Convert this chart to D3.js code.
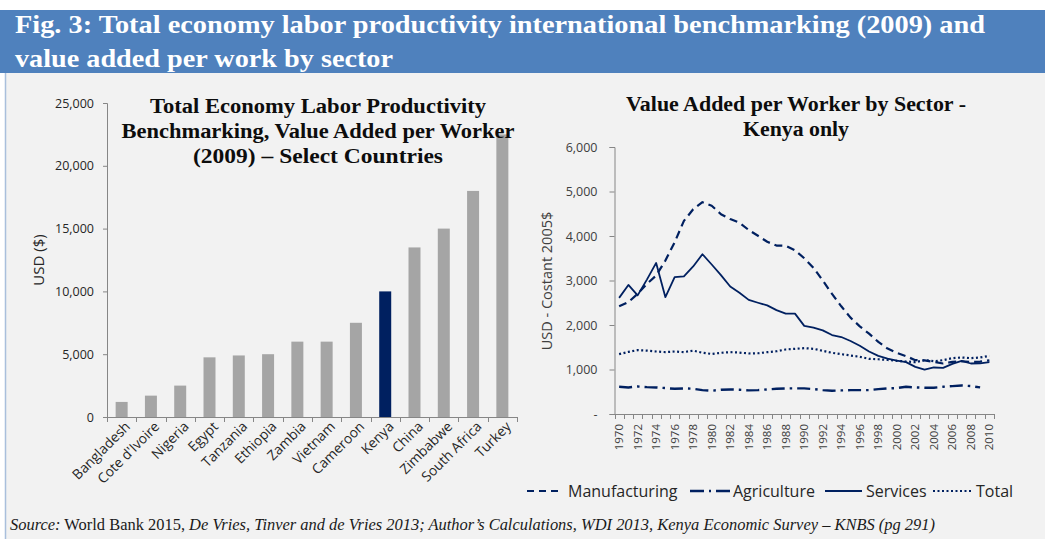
<!DOCTYPE html>
<html><head><meta charset="utf-8">
<script src="https://cdn.jsdelivr.net/npm/d3@7"></script>
<style>
html,body{margin:0;padding:0;background:#fff;}
svg{display:block;}
</style></head>
<body>
<svg id="c" width="1045" height="539"></svg>
<script>
// ---------- DATA ----------
const countries = ["Bangladesh","Cote d'Ivoire","Nigeria","Egypt","Tanzania","Ethiopia","Zambia","Vietnam","Cameroon","Kenya","China","Zimbabwe","South Africa","Turkey"];
const productivity = [1200,1700,2500,4750,4900,5000,6000,6000,7500,10000,13500,15000,18000,22500];
const leftTicks = [0,5000,10000,15000,20000,25000];

const years = [1970,1971,1972,1973,1974,1975,1976,1977,1978,1979,1980,1981,1982,1983,1984,1985,1986,1987,1988,1989,1990,1991,1992,1993,1994,1995,1996,1997,1998,1999,2000,2001,2002,2003,2004,2005,2006,2007,2008,2009,2010];
const manufacturing = [2420,2515,2700,2925,3110,3450,3860,4340,4600,4760,4680,4490,4380,4300,4135,4005,3870,3785,3780,3680,3500,3285,3000,2700,2420,2165,1970,1805,1620,1470,1375,1300,1210,1205,1170,1135,1170,1185,1170,1175,1205];
const agriculture = [612,597,619,604,597,582,567,575,567,537,522,545,552,545,530,537,552,567,575,575,575,560,537,522,530,537,537,537,560,575,582,612,597,590,590,612,627,642,627,597,null];
const services = [2610,2900,2665,3020,3395,2625,3075,3095,3315,3590,3360,3120,2865,2725,2565,2500,2440,2335,2255,2255,1980,1940,1880,1775,1730,1640,1535,1405,1305,1245,1200,1165,1060,995,1045,1035,1125,1195,1135,1140,1165];
const total = [1345,1395,1435,1425,1405,1390,1405,1390,1425,1375,1350,1375,1390,1380,1360,1365,1390,1410,1450,1465,1480,1465,1420,1375,1345,1315,1285,1240,1230,1215,1195,1180,1165,1210,1185,1210,1255,1270,1255,1270,1305];
const rightTicks = [0,1000,2000,3000,4000,5000,6000];
const rightTickLabels = ["-","1,000","2,000","3,000","4,000","5,000","6,000"];

const seriesNames = ["Manufacturing","Agriculture","Services","Total"];
const seriesData = [manufacturing, agriculture, services, total];

// ---------- STYLE ----------
const navy = "#002060";
const barGray = "#a5a5a5";
const axisCol = "#868686";
const sans = "'Open Sans', 'Noto Sans', sans-serif";
const serif = "'Liberation Serif', 'DejaVu Serif', serif";
const dashes = ["8,5", "13,5,2.5,5", null, "2,2.5"];
const widths = [2.2, 2.4, 1.8, 2.2];

const svg = d3.select("#c");

// background
svg.append("rect").attr("x",0).attr("y",0).attr("width",1045).attr("height",539).attr("fill","#ffffff");
svg.append("rect").attr("x",5).attr("y",73).attr("width",1040).attr("height",466).attr("fill","#f2f2f2");
svg.append("line").attr("x1",5.5).attr("x2",5.5).attr("y1",73).attr("y2",539).attr("stroke","#a9bfdc").attr("stroke-width",1.5);
svg.append("rect").attr("x",0).attr("y",10).attr("width",1045).attr("height",63).attr("fill","#4f81bd");

// header
svg.append("text").attr("x",15).attr("y",33).attr("fill","#fff")
  .attr("font-family",serif).attr("font-size",26).attr("font-weight","bold")
  .attr("textLength",970).attr("lengthAdjust","spacingAndGlyphs")
  .text("Fig. 3: Total economy labor productivity international benchmarking (2009) and");
svg.append("text").attr("x",15).attr("y",67).attr("fill","#fff")
  .attr("font-family",serif).attr("font-size",26).attr("font-weight","bold")
  .attr("textLength",378).attr("lengthAdjust","spacingAndGlyphs")
  .text("value added per work by sector");

// ---------- LEFT BAR CHART ----------
const L = {x0:107, x1:517, y0:417, y1:103};
const xb = d3.scaleBand().domain(countries).range([L.x0, L.x1]).paddingInner(0).paddingOuter(0);
const yb = d3.scaleLinear().domain([0,25000]).range([L.y0, L.y1]);

const gL = svg.append("g");
gL.selectAll("rect.bar").data(countries).enter().append("rect")
  .attr("x", d => xb(d) + xb.bandwidth()/2 - 6)
  .attr("width", 12)
  .attr("y", (d,i) => yb(productivity[i]))
  .attr("height", (d,i) => L.y0 - yb(productivity[i]))
  .attr("fill", d => d === "Kenya" ? navy : barGray);

const yAxL = d3.axisLeft(yb).tickValues(leftTicks).tickSize(4).tickPadding(9).tickFormat(d3.format(","));
const gyL = gL.append("g").attr("transform",`translate(${L.x0},0)`).call(yAxL);
gyL.select(".domain").attr("stroke",axisCol);
gyL.selectAll(".tick line").attr("stroke",axisCol);
gyL.selectAll("text").attr("font-family",sans).attr("font-size",12.5).attr("fill","#262626");

// x axis line + ticks at band boundaries
const gxL = gL.append("g").attr("transform",`translate(0,${L.y0})`);
gxL.append("line").attr("x1",L.x0).attr("x2",L.x1).attr("y1",0.5).attr("y2",0.5).attr("stroke",axisCol);
const bounds = countries.map(d => xb(d)).concat([L.x1]);
gxL.selectAll("line.t").data(bounds).enter().append("line")
  .attr("x1",d=>Math.round(d)+0.5).attr("x2",d=>Math.round(d)+0.5).attr("y1",0).attr("y2",5).attr("stroke",axisCol);
gxL.selectAll("text").data(countries).enter().append("text")
  .attr("transform", d => `translate(${xb(d)+xb.bandwidth()/2+6},7) rotate(-45)`)
  .attr("text-anchor","end").attr("dy","0.35em")
  .attr("font-family",sans).attr("font-size",13.8).attr("fill","#262626")
  .text(d=>d);

svg.append("text").attr("transform","translate(44,260) rotate(-90)")
  .attr("text-anchor","middle").attr("font-family",sans).attr("font-size",15).attr("fill","#262626")
  .text("USD ($)");

const lt = [["Total Economy Labor Productivity",112.5,336],["Benchmarking, Value Added per Worker",138,393],["(2009) – Select Countries",163,250]];
lt.forEach(([t,y,w]) => {
  svg.append("text").attr("x",318).attr("y",y).attr("text-anchor","middle")
    .attr("font-family",serif).attr("font-weight","bold").attr("font-size",20).attr("fill","#0d0d0d")
    .attr("textLength",w).attr("lengthAdjust","spacingAndGlyphs").text(t);
});

// ---------- RIGHT LINE CHART ----------
const R = {x0:614.5, x1:994, y0:414, y1:147};
const xr = d3.scaleBand().domain(years).range([R.x0, R.x1]);
const yr = d3.scaleLinear().domain([0,6000]).range([R.y0, R.y1]);
const gR = svg.append("g");

const yAxR = d3.axisLeft(yr).tickValues(rightTicks).tickSize(5).tickPadding(12).tickFormat((d,i)=>rightTickLabels[i]);
const gyR = gR.append("g").attr("transform",`translate(${R.x0},0)`).call(yAxR);
gyR.select(".domain").attr("stroke",axisCol);
gyR.selectAll(".tick line").attr("stroke",axisCol);
gyR.selectAll("text").attr("font-family",sans).attr("font-size",12.5).attr("fill","#404040");

const gxR = gR.append("g").attr("transform",`translate(0,${R.y0})`);
gxR.append("line").attr("x1",R.x0).attr("x2",R.x1).attr("y1",0.5).attr("y2",0.5).attr("stroke",axisCol);
const rb = years.map(d => xr(d)).concat([R.x1]);
gxR.selectAll("line.t").data(rb).enter().append("line")
  .attr("x1",d=>Math.round(d)+0.5).attr("x2",d=>Math.round(d)+0.5).attr("y1",0).attr("y2",5).attr("stroke",axisCol);
gxR.selectAll("text").data(years.filter((d,i)=>i%2===0)).enter().append("text")
  .attr("transform", d => `translate(${xr(d)+xr.bandwidth()/2},10) rotate(-90)`)
  .attr("text-anchor","end").attr("dy","0.35em")
  .attr("font-family",sans).attr("font-size",11.5).attr("fill","#404040")
  .text(d=>d);

const line = d3.line().defined(d => d.v !== null).x(d => xr(d.y)+xr.bandwidth()/2).y(d => yr(d.v)).curve(d3.curveLinear);
seriesData.forEach((arr,k) => {
  const pts = years.map((y,i)=>({y:y, v:arr[i]}));
  gR.append("path").attr("d", line(pts)).attr("fill","none").attr("stroke",navy)
    .attr("stroke-width",widths[k]).attr("stroke-dasharray",dashes[k]).attr("stroke-linejoin","round");
});

svg.append("text").attr("transform","translate(552,281) rotate(-90)")
  .attr("text-anchor","middle").attr("font-family",sans).attr("font-size",14.5).attr("fill","#404040")
  .text("USD - Costant 2005$");

[["Value Added per Worker by Sector -",111,340],["Kenya only",136,106]].forEach(([t,y,w]) => {
  svg.append("text").attr("x",796).attr("y",y).attr("text-anchor","middle")
    .attr("font-family",serif).attr("font-weight","bold").attr("font-size",20).attr("fill","#0d0d0d")
    .attr("textLength",w).attr("lengthAdjust","spacingAndGlyphs").text(t);
});

// legend
const legX = [527, 690, 825, 933];
const legTX = [568, 733, 866, 976];
const legSampleW = [36, 40, 37, 40];
const legDash = ["7,5", "14,5,2,5", null, "2,2.5"];
seriesNames.forEach((n,k) => {
  svg.append("line").attr("x1",legX[k]).attr("x2",legX[k]+legSampleW[k]).attr("y1",491).attr("y2",491)
    .attr("stroke",navy).attr("stroke-width",widths[k]).attr("stroke-dasharray",legDash[k]);
  svg.append("text").attr("x",legTX[k]).attr("y",497).attr("font-family",sans).attr("font-size",16)
    .attr("fill","#262626").text(n);
});

// source
const src = svg.append("text").attr("x",10).attr("y",530).attr("font-family",serif).attr("font-size",16).attr("fill","#1a1a1a")
  .attr("textLength",925).attr("lengthAdjust","spacingAndGlyphs");
src.append("tspan").attr("font-style","italic").text("Source:");
src.append("tspan").text(" World Bank 2015, ");
src.append("tspan").attr("font-style","italic").text("De Vries, Tinver and de Vries 2013; Author’s Calculations, WDI 2013, Kenya Economic Survey – KNBS (pg 291)");
</script>
</body></html>
